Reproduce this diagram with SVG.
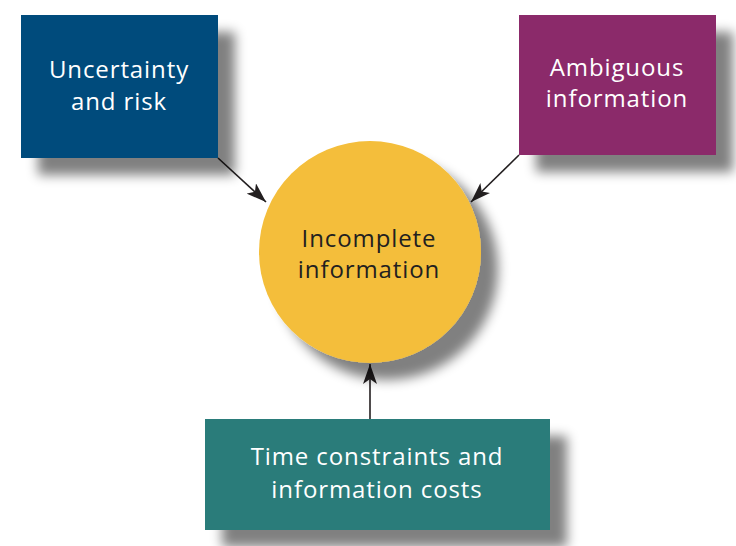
<svg xmlns="http://www.w3.org/2000/svg" width="736" height="546" viewBox="0 0 736 546">
<style>
.lbl{font-family:"Open Sans","Liberation Sans",sans-serif;font-size:24px;text-anchor:middle;letter-spacing:0.9px}
.w{fill:#ffffff}
.d{fill:#231f20}
.conn{stroke:#231f20;stroke-width:1.6;fill:none}
</style>
<defs>
<filter id="sh" x="-20%" y="-20%" width="150%" height="150%">
<feGaussianBlur in="SourceAlpha" stdDeviation="6"/>
<feOffset dx="17" dy="17" result="b"/>
<feComponentTransfer><feFuncA type="linear" slope="0.5"/></feComponentTransfer>
<feMerge><feMergeNode/><feMergeNode in="SourceGraphic"/></feMerge>
</filter>
<marker id="ah2" viewBox="0 0 20 14" refX="20" refY="7" markerWidth="20" markerHeight="14" markerUnits="userSpaceOnUse" orient="auto">
<path d="M0,0 L20,7 L0,14 L5,7 z" fill="#231f20"/>
</marker>
</defs>
<g id="connectors">
<line class="conn" x1="218" y1="158" x2="266" y2="202" marker-end="url(#ah2)"/>
<line class="conn" x1="519" y1="155" x2="471" y2="202" marker-end="url(#ah2)"/>
<line class="conn" x1="370" y1="419" x2="370" y2="364" marker-end="url(#ah2)"/>
</g>
<g id="uncertainty">
<rect x="21" y="15" width="197" height="143" fill="#004b7c" filter="url(#sh)"/>
<text class="lbl w" x="119" y="78">Uncertainty</text>
<text class="lbl w" x="119" y="110">and risk</text>
</g>
<g id="ambiguous">
<rect x="519" y="15" width="197" height="140" fill="#8b2a6b" filter="url(#sh)"/>
<text class="lbl w" x="617" y="76">Ambiguous</text>
<text class="lbl w" x="617" y="107">information</text>
</g>
<g id="incomplete">
<circle cx="370" cy="252" r="111" fill="#f4be3a" filter="url(#sh)"/>
<text class="lbl d" x="369" y="247">Incomplete</text>
<text class="lbl d" x="369" y="278">information</text>
</g>
<g id="time">
<rect x="205" y="419" width="345" height="111" fill="#2b7b7a" filter="url(#sh)"/>
<text class="lbl w" x="377" y="465">Time constraints and</text>
<text class="lbl w" x="377" y="498">information costs</text>
</g>
</svg>
